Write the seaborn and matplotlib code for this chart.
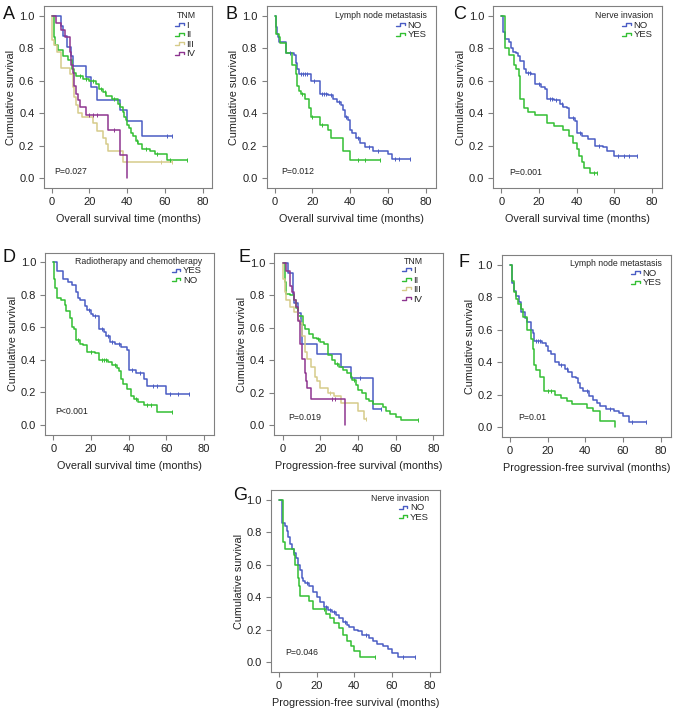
import numpy as np
import pandas as pd
import matplotlib
matplotlib.use("Agg")
import matplotlib.pyplot as plt
from matplotlib.lines import Line2D
from matplotlib.legend_handler import HandlerBase
import seaborn as sns

sns.set_theme(style="white")
plt.rcParams['font.family'] = ['Liberation Sans', 'DejaVu Sans']

BLUE = "#4a5cc4"
GREEN = "#33bf33"
TAN = "#d6cb8a"
PURPLE = "#8e3590"

# ---------------- Panel A: OS by TNM ----------------
A_I_t = [0, 5, 6, 8, 10, 11, 18, 21, 24, 36, 40, 48, 64]
A_I_s = [1.0, 0.94, 0.875, 0.81, 0.75, 0.69, 0.625, 0.56, 0.48, 0.42, 0.35, 0.26, 0.26]
A_I_c = [61, 64]
A_II_t = [0, 1, 1.7, 3.5, 6, 8.8, 10.5, 12, 13, 16.6, 20, 23.6, 25, 27, 29, 32, 35, 36, 37.6, 38.5,
          39.5, 40, 41, 42, 43, 44.6, 46, 48, 52, 55, 61, 72]
A_II_s = [1.0, 0.87, 0.82, 0.79, 0.75, 0.73, 0.67, 0.65, 0.63, 0.61, 0.60, 0.58, 0.55, 0.53, 0.505, 0.485,
          0.46, 0.44, 0.41, 0.38, 0.36, 0.33, 0.31, 0.28, 0.26, 0.23, 0.21, 0.18, 0.17, 0.15, 0.11, 0.11]
A_II_c = [15, 18, 22, 26, 28, 33, 45, 50, 56, 63, 72]
A_III_t = [0, 0.3, 1, 3, 5, 9.5, 11, 12, 13, 14, 16, 22, 24, 27, 29, 30, 38, 64]
A_III_s = [1.0, 0.85, 0.82, 0.78, 0.68, 0.64, 0.56, 0.50, 0.45, 0.40, 0.38, 0.34, 0.29, 0.25, 0.21, 0.17, 0.10, 0.10]
A_III_c = [58, 64]
A_IV_t = [0, 2, 5, 7, 9.5, 10, 11, 12, 13, 14, 15, 18, 30, 36, 40]
A_IV_s = [1.0, 0.955, 0.91, 0.87, 0.78, 0.70, 0.65, 0.57, 0.52, 0.48, 0.44, 0.39, 0.30, 0.145, 0.0]
A_IV_c = [20, 22, 24, 33]

# ---------------- Panel B: OS by lymph node metastasis ----------------
B_NO_t = [0, 0.5, 1, 1.5, 2, 6, 10, 11, 12, 13, 19, 24, 28, 31, 33, 35, 36, 37, 39, 40,
          41, 43, 45, 48, 52, 60, 62, 72]
B_NO_s = [1.0, 0.93, 0.89, 0.87, 0.84, 0.77, 0.76, 0.71, 0.67, 0.64, 0.60, 0.52, 0.51, 0.49, 0.47, 0.45,
          0.42, 0.38, 0.36, 0.30, 0.28, 0.25, 0.22, 0.19, 0.17, 0.15, 0.12, 0.12]
B_NO_c = [8, 14, 15, 16, 17, 21, 25, 26, 27, 30, 34, 38, 44, 50, 55, 64, 66, 72]
B_YES_t = [0, 0.5, 2, 2.5, 6, 9, 11, 12, 13, 14, 16, 18, 19, 24, 28, 30, 36, 40, 56]
B_YES_s = [1.0, 0.89, 0.87, 0.83, 0.77, 0.70, 0.64, 0.57, 0.54, 0.52, 0.49, 0.43, 0.38, 0.33, 0.30, 0.25,
           0.17, 0.11, 0.11]
B_YES_c = [14.5, 20, 25, 44, 48, 56]

# ---------------- Panel C: OS by nerve invasion ----------------
C_NO_t = [0, 1, 2, 4, 5, 6, 8, 9, 10, 12, 13, 16, 18, 21, 23, 24, 28, 31, 33, 35,
          36, 39, 40, 43, 46, 50, 54, 56, 60, 72]
C_NO_s = [1.0, 0.90, 0.86, 0.84, 0.80, 0.78, 0.77, 0.75, 0.72, 0.67, 0.65, 0.64, 0.58, 0.56, 0.55, 0.49,
          0.48, 0.46, 0.44, 0.43, 0.37, 0.35, 0.28, 0.26, 0.24, 0.20, 0.19, 0.17, 0.14, 0.14]
C_NO_c = [14, 15, 20, 26, 27, 29, 32, 38, 42, 52, 62, 65, 68, 72]
C_YES_t = [0, 2, 4, 7, 8, 9.5, 10, 12, 14, 18, 24, 28, 33, 36, 38, 40, 41, 43, 44, 47, 51]
C_YES_s = [1.0, 0.80, 0.76, 0.70, 0.67, 0.63, 0.49, 0.43, 0.41, 0.39, 0.34, 0.32, 0.30, 0.26, 0.22, 0.18,
           0.14, 0.10, 0.065, 0.03, 0.03]
C_YES_c = [49, 51]

# ---------------- Panel D: OS by radiotherapy/chemotherapy ----------------
D_YES_t = [0, 2, 5, 8, 10, 12, 13, 14, 17, 18, 20, 21, 24, 27, 28, 30, 33, 36, 39, 40, 44, 48, 50, 60, 72]
D_YES_s = [1.0, 0.95, 0.90, 0.88, 0.86, 0.82, 0.78, 0.77, 0.73, 0.71, 0.68, 0.67, 0.59, 0.57, 0.55, 0.51,
           0.50, 0.48, 0.46, 0.34, 0.32, 0.28, 0.24, 0.19, 0.19]
D_YES_c = [19, 22, 26, 29, 31, 35, 42, 46, 53, 55, 62, 66, 72]
D_NO_t = [0, 0.3, 1, 2, 4, 6, 7, 9, 10, 11, 12, 14, 16, 18, 22, 24, 29, 31, 34, 35,
          36, 37, 39, 41, 43, 45, 48, 55, 63]
D_NO_s = [1.0, 0.90, 0.84, 0.78, 0.77, 0.74, 0.70, 0.66, 0.60, 0.59, 0.52, 0.50, 0.49, 0.45, 0.44, 0.40,
          0.39, 0.37, 0.35, 0.33, 0.28, 0.25, 0.22, 0.18, 0.16, 0.14, 0.12, 0.08, 0.08]
D_NO_c = [13, 20, 26, 27, 28, 33, 44, 50, 52, 63]

# ---------------- Panel E: PFS by TNM ----------------
E_I_t = [0, 3, 5.3, 6, 8, 9.5, 10, 18, 31, 36, 48, 52]
E_I_s = [1.0, 0.94, 0.81, 0.75, 0.69, 0.625, 0.50, 0.44, 0.36, 0.29, 0.10, 0.10]
E_I_c = [41, 52]
E_II_t = [0, 1, 2, 4, 6, 7, 8, 11, 12, 14, 16, 18, 20, 22, 24, 26, 28, 30, 32, 34,
          36, 37, 39, 40, 42, 44, 46, 48, 53, 55, 57, 60, 63, 72]
E_II_s = [1.0, 0.88, 0.81, 0.80, 0.77, 0.72, 0.67, 0.62, 0.59, 0.56, 0.54, 0.53, 0.51, 0.50, 0.43, 0.40,
          0.38, 0.36, 0.34, 0.32, 0.30, 0.28, 0.25, 0.22, 0.20, 0.16, 0.15, 0.13, 0.11, 0.09, 0.07, 0.05,
          0.035, 0.035]
E_II_c = [19, 29, 38, 72]
E_III_t = [0, 0.2, 1, 2, 4, 6, 8, 9, 10, 12, 13, 15, 17, 18, 20, 24, 27, 31, 40, 43, 44]
E_III_s = [1.0, 0.90, 0.82, 0.77, 0.73, 0.70, 0.65, 0.63, 0.55, 0.45, 0.41, 0.36, 0.30, 0.27, 0.23, 0.20,
           0.18, 0.14, 0.09, 0.04, 0.04]
E_III_c = [25, 44]
E_IV_t = [0, 2, 4, 5, 6, 7, 8, 9, 10, 12, 12.5, 13, 15, 33]
E_IV_s = [1.0, 0.95, 0.86, 0.82, 0.77, 0.73, 0.64, 0.50, 0.41, 0.32, 0.27, 0.23, 0.16, 0.0]
E_IV_c = [26, 28]

# ---------------- Panel F: PFS by lymph node metastasis ----------------
F_NO_t = [0, 1, 2, 3, 5, 6, 8, 9, 11, 12, 13, 17, 19, 20, 22, 24, 26, 29, 31, 33,
          35, 36, 37, 39, 42, 44, 46, 48, 51, 55, 58, 60, 63, 72]
F_NO_s = [1.0, 0.89, 0.84, 0.81, 0.77, 0.71, 0.67, 0.65, 0.60, 0.58, 0.53, 0.52, 0.50, 0.47, 0.45, 0.40,
          0.38, 0.36, 0.34, 0.31, 0.30, 0.27, 0.24, 0.22, 0.19, 0.17, 0.15, 0.13, 0.11, 0.10, 0.09, 0.07,
          0.035, 0.035]
F_NO_c = [14, 15, 16, 27, 30, 41, 53, 65, 72]
F_YES_t = [0, 1, 2, 3, 4, 6, 7, 9, 11, 12, 12.5, 13, 14, 16, 18, 24, 27, 30, 33, 41, 44, 48, 56]
F_YES_s = [1.0, 0.90, 0.83, 0.79, 0.76, 0.73, 0.68, 0.60, 0.54, 0.48, 0.40, 0.38, 0.35, 0.31, 0.22, 0.20,
           0.18, 0.16, 0.14, 0.12, 0.10, 0.04, 0.0]
F_YES_c = [20, 22]

# ---------------- Panel G: PFS by nerve invasion ----------------
G_NO_t = [0, 1.5, 3, 4, 5, 6, 7, 8, 9, 10, 11, 12, 13, 14, 16, 18, 20, 22, 24, 26,
          28, 30, 32, 34, 36, 37, 40, 42, 44, 48, 50, 52, 55, 58, 60, 63, 72]
G_NO_s = [1.0, 0.86, 0.84, 0.81, 0.77, 0.73, 0.70, 0.67, 0.64, 0.60, 0.57, 0.52, 0.50, 0.49, 0.47, 0.43,
          0.40, 0.37, 0.34, 0.32, 0.31, 0.29, 0.27, 0.25, 0.23, 0.22, 0.20, 0.19, 0.17, 0.15, 0.13, 0.11,
          0.10, 0.08, 0.06, 0.03, 0.03]
G_NO_c = [15, 25, 27, 29, 35, 46, 66, 72]
G_YES_t = [0, 2, 3, 8, 8.5, 10, 10.5, 11, 16, 18, 25, 27, 29, 32, 34, 36, 38, 40, 43, 51]
G_YES_s = [1.0, 0.74, 0.70, 0.66, 0.60, 0.52, 0.47, 0.41, 0.38, 0.33, 0.30, 0.27, 0.24, 0.21, 0.17, 0.13,
           0.10, 0.07, 0.03, 0.03]
G_YES_c = [24, 51]

OS_LABEL = "Overall survival time (months)"
PFS_LABEL = "Progression-free survival (months)"
Y_LABEL = "Cumulative survival"
X_TICKS = [0, 20, 40, 60, 80]
Y_TICKS = [0.0, 0.2, 0.4, 0.6, 0.8, 1.0]

panels = [
    dict(letter="A", title="TNM", xlabel=OS_LABEL, p="P=0.027", ppos=(1.5, 0.04),
         curves=[("I", A_I_t, A_I_s, A_I_c, BLUE), ("II", A_II_t, A_II_s, A_II_c, GREEN),
                 ("III", A_III_t, A_III_s, A_III_c, TAN), ("IV", A_IV_t, A_IV_s, A_IV_c, PURPLE)],
         box=(43.5, 6), leg=(0.90, 0.97), lpos=(3, 6)),
    dict(letter="B", title="Lymph node metastasis", xlabel=OS_LABEL, p="P=0.012", ppos=(3.2, 0.04),
         curves=[("NO", B_NO_t, B_NO_s, B_NO_c, BLUE), ("YES", B_YES_t, B_YES_s, B_YES_c, GREEN)],
         box=(266.5, 6), leg=(0.948, 0.97), lpos=(226, 6)),
    dict(letter="C", title="Nerve invasion", xlabel=OS_LABEL, p="P=0.001", ppos=(4.0, 0.033),
         curves=[("NO", C_NO_t, C_NO_s, C_NO_c, BLUE), ("YES", C_YES_t, C_YES_s, C_YES_c, GREEN)],
         box=(493, 6), leg=(0.945, 0.97), lpos=(453, 6)),
    dict(letter="D", title="Radiotherapy and chemotherapy", xlabel=OS_LABEL, p="P<0.001", ppos=(1.0, 0.08),
         curves=[("YES", D_YES_t, D_YES_s, D_YES_c, BLUE), ("NO", D_NO_t, D_NO_s, D_NO_c, GREEN)],
         box=(45, 252.7), leg=(0.93, 0.978), lpos=(3, 249)),
    dict(letter="E", title="TNM", xlabel=PFS_LABEL, p="P=0.019", ppos=(3.0, 0.05),
         curves=[("I", E_I_t, E_I_s, E_I_c, BLUE), ("II", E_II_t, E_II_s, E_II_c, GREEN),
                 ("III", E_III_t, E_III_s, E_III_c, TAN), ("IV", E_IV_t, E_IV_s, E_IV_c, PURPLE)],
         box=(274.4, 253), leg=(0.877, 0.98), lpos=(238, 249)),
    dict(letter="F", title="Lymph node metastasis", xlabel=PFS_LABEL, p="P=0.01", ppos=(4.4, 0.06),
         curves=[("NO", F_NO_t, F_NO_s, F_NO_c, BLUE), ("YES", F_YES_t, F_YES_s, F_YES_c, GREEN)],
         box=(501.7, 255), leg=(0.947, 0.976), lpos=(458, 254)),
    dict(letter="G", title="Nerve invasion", xlabel=PFS_LABEL, p="P=0.046", ppos=(3.2, 0.057),
         curves=[("NO", G_NO_t, G_NO_s, G_NO_c, BLUE), ("YES", G_YES_t, G_YES_s, G_YES_c, GREEN)],
         box=(270.7, 490), leg=(0.937, 0.978), lpos=(233, 487)),
]


class StepHandler(HandlerBase):
    """Legend handle drawn as a small survival step."""
    def create_artists(self, legend, orig_handle, xdescent, ydescent, width, height, fontsize, trans):
        x0 = -xdescent
        y0 = -ydescent
        xs = [x0, x0 + 0.45 * width, x0 + 0.45 * width, x0 + width, x0 + width]
        ys = [y0 + 0.25 * height, y0 + 0.25 * height, y0 + 0.7 * height, y0 + 0.7 * height, y0 + 0.4 * height]
        ln = Line2D(xs, ys, color=orig_handle.get_color(), lw=1.0, transform=trans)
        return [ln]


FW, FH = 677, 708
AW, AH = 169, 182
fig = plt.figure(figsize=(FW / 100, FH / 100), dpi=100)
FRAME = "#808080"

for pn in panels:
    L, T = pn["box"]
    ax = fig.add_axes([L / FW, 1 - (T + AH) / FH, AW / FW, AH / FH])
    rows = []
    for lab, t, s, c, col in pn["curves"]:
        rows.append(pd.DataFrame({"time": t, "surv": s, "group": lab}))
    df = pd.concat(rows, ignore_index=True)
    pal = {lab: col for lab, t, s, c, col in pn["curves"]}
    sns.lineplot(data=df, x="time", y="surv", hue="group", palette=pal, estimator=None,
                 sort=False, drawstyle="steps-post", lw=1.1, legend=False, ax=ax)
    # censor marks
    for lab, t, s, c, col in pn["curves"]:
        ta = np.asarray(t, float)
        sa = np.asarray(s, float)
        idx = np.searchsorted(ta, np.asarray(c, float), side="right") - 1
        ax.plot(c, sa[idx], ls="none", marker="|", ms=3.5, mew=0.7, color=col)
    ax.set_xlim(-4.4, 85.3)
    ax.set_ylim(-0.06, 1.06)
    ax.set_xticks(X_TICKS)
    ax.set_yticks(Y_TICKS)
    ax.set_yticklabels([f"{v:.1f}" for v in Y_TICKS])
    ax.tick_params(axis="both", which="both", bottom=True, left=True, top=False, right=False,
                   direction="out", length=3.5, width=0.8, color=FRAME, labelsize=8,
                   pad=3, labelcolor="#222222")
    for sp in ax.spines.values():
        sp.set_color(FRAME)
        sp.set_linewidth(0.8)
    ax.set_xlabel(pn["xlabel"], fontsize=7.8, labelpad=5, color="#222222")
    ax.set_ylabel(Y_LABEL, fontsize=7.8, labelpad=2, color="#222222")
    ax.text(pn["ppos"][0], pn["ppos"][1], pn["p"], fontsize=6.3, va="center", ha="left", color="#222222")
    handles = [Line2D([], [], color=col, lw=1.0) for lab, t, s, c, col in pn["curves"]]
    labels = [lab for lab, t, s, c, col in pn["curves"]]
    ax.legend(handles, labels, title=pn["title"], loc="upper right", bbox_to_anchor=pn["leg"],
              frameon=False, fontsize=6.8, title_fontsize=6.3, handlelength=0.9,
              handletextpad=0.3, labelspacing=0.05, borderpad=0, borderaxespad=0,
              alignment="right", handler_map={Line2D: StepHandler()})
    fig.text(pn["lpos"][0] / FW, 1 - pn["lpos"][1] / FH, pn["letter"], fontsize=13,
             va="top", ha="left", color="#111111")

fig.savefig("out.png", dpi=100)
